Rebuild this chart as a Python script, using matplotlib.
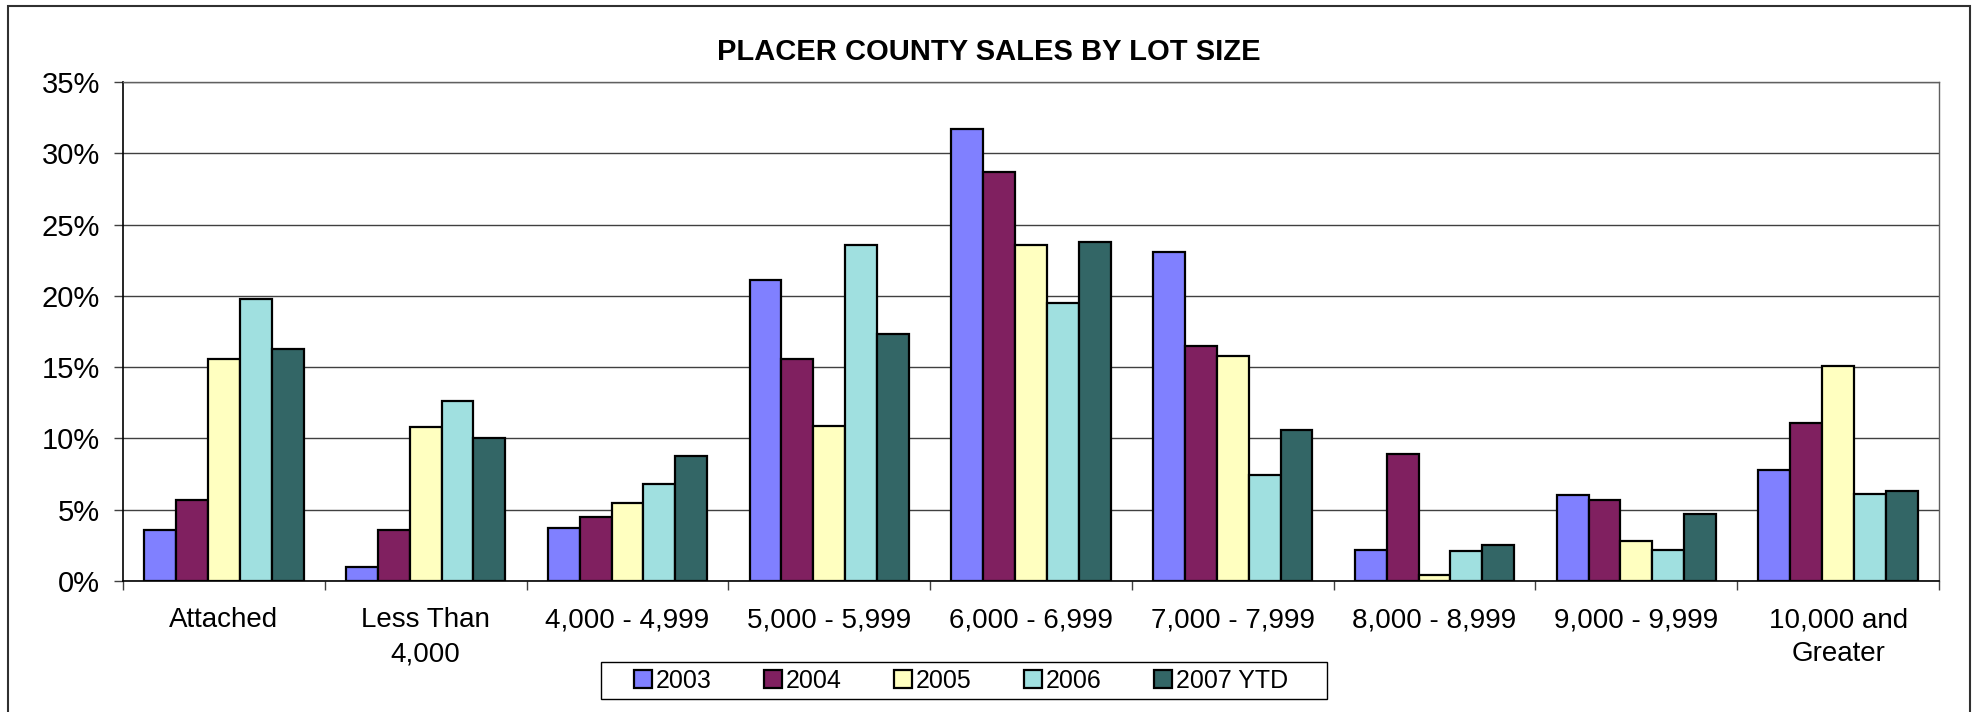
import matplotlib
matplotlib.use("Agg")
import matplotlib.pyplot as plt
from matplotlib.patches import Rectangle
import numpy as np

plt.rcParams['font.family'] = ['Liberation Sans', 'DejaVu Sans']

categories = ['Attached', 'Less Than\n4,000', '4,000 - 4,999', '5,000 - 5,999',
              '6,000 - 6,999', '7,000 - 7,999', '8,000 - 8,999', '9,000 - 9,999',
              '10,000 and\nGreater']
series_names = ['2003', '2004', '2005', '2006', '2007 YTD']
s2003 = [3.6, 1.0, 3.7, 21.1, 31.7, 23.1, 2.2, 6.0, 7.8]
s2004 = [5.7, 3.6, 4.5, 15.6, 28.7, 16.5, 8.9, 5.7, 11.1]
s2005 = [15.6, 10.8, 5.5, 10.9, 23.6, 15.8, 0.4, 2.8, 15.1]
s2006 = [19.8, 12.6, 6.8, 23.6, 19.5, 7.4, 2.1, 2.2, 6.1]
s2007 = [16.3, 10.0, 8.8, 17.3, 23.8, 10.6, 2.5, 4.7, 6.3]
y_ticks = [0, 5, 10, 15, 20, 25, 30, 35]
title = 'PLACER COUNTY SALES BY LOT SIZE'

colors = ['#8080FF', '#802060', '#FFFFC0', '#A0E0E0', '#336666']
series = [s2003, s2004, s2005, s2006, s2007]

W, H = 1977, 712
fig = plt.figure(figsize=(W / 100, H / 100), dpi=100)
fig.patch.set_facecolor('white')

ax = fig.add_axes([123 / W, 1 - 581 / H, (1939 - 123) / W, (581 - 82) / H])

x = np.arange(len(categories))
bw = 0.158
bars = []
for k, (vals, col, name) in enumerate(zip(series, colors, series_names)):
    b = ax.bar(x + (k - 2) * bw, vals, width=bw, color=col, edgecolor='black',
               linewidth=1.6, label=name, zorder=3)
    bars.append(b)

ax.set_xlim(-0.5, len(categories) - 0.5)
ax.set_ylim(0, 35)
ax.set_yticks(y_ticks)
ax.set_yticklabels([f'{v}%' for v in y_ticks], fontsize=21)
ax.yaxis.grid(True, color='#404040', linewidth=1.0, zorder=0)
ax.set_axisbelow(True)

ax.set_xticks(np.arange(-0.5, len(categories), 1.0))
ax.set_xticklabels([])
ax.set_xticks(x, minor=True)
ax.set_xticklabels(categories, minor=True, fontsize=20, linespacing=1.4)
ax.tick_params(axis='x', which='major', direction='out', length=6.5, width=1, color='#404040')
ax.tick_params(axis='x', which='minor', length=0, pad=19)
ax.tick_params(axis='y', direction='out', length=6.5, width=1, pad=10, color='#404040')

for side in ['left', 'bottom']:
    ax.spines[side].set_color('black')
    ax.spines[side].set_linewidth(1.2)
for side in ['top', 'right']:
    ax.spines[side].set_color('#606060')
    ax.spines[side].set_linewidth(1.0)

fig.text(989 / W, 1 - 60 / H, title, ha='center', va='baseline',
         fontsize=21, fontweight='bold')

# legend
leg = fig.legend(handles=bars, labels=series_names, loc='center',
                 bbox_to_anchor=(961 / W, 1 - 680.5 / H), ncol=5, frameon=False,
                 fontsize=18, handlelength=0.72, handleheight=0.72,
                 handletextpad=0.15, columnspacing=2.1, borderpad=0)
fig.patches.append(Rectangle((601 / W, 1 - 699 / H), (1327 - 601) / W, (699 - 662) / H,
                             transform=fig.transFigure, fill=False,
                             edgecolor='black', linewidth=1.0))

# outer chart border
fig.patches.append(Rectangle((7.5 / W, -0.05), (1970 - 7.5) / W, 1.05 - 6 / H,
                             transform=fig.transFigure, fill=False,
                             edgecolor='#303030', linewidth=1.5, clip_on=False))

fig.savefig('out.png', dpi=100)
